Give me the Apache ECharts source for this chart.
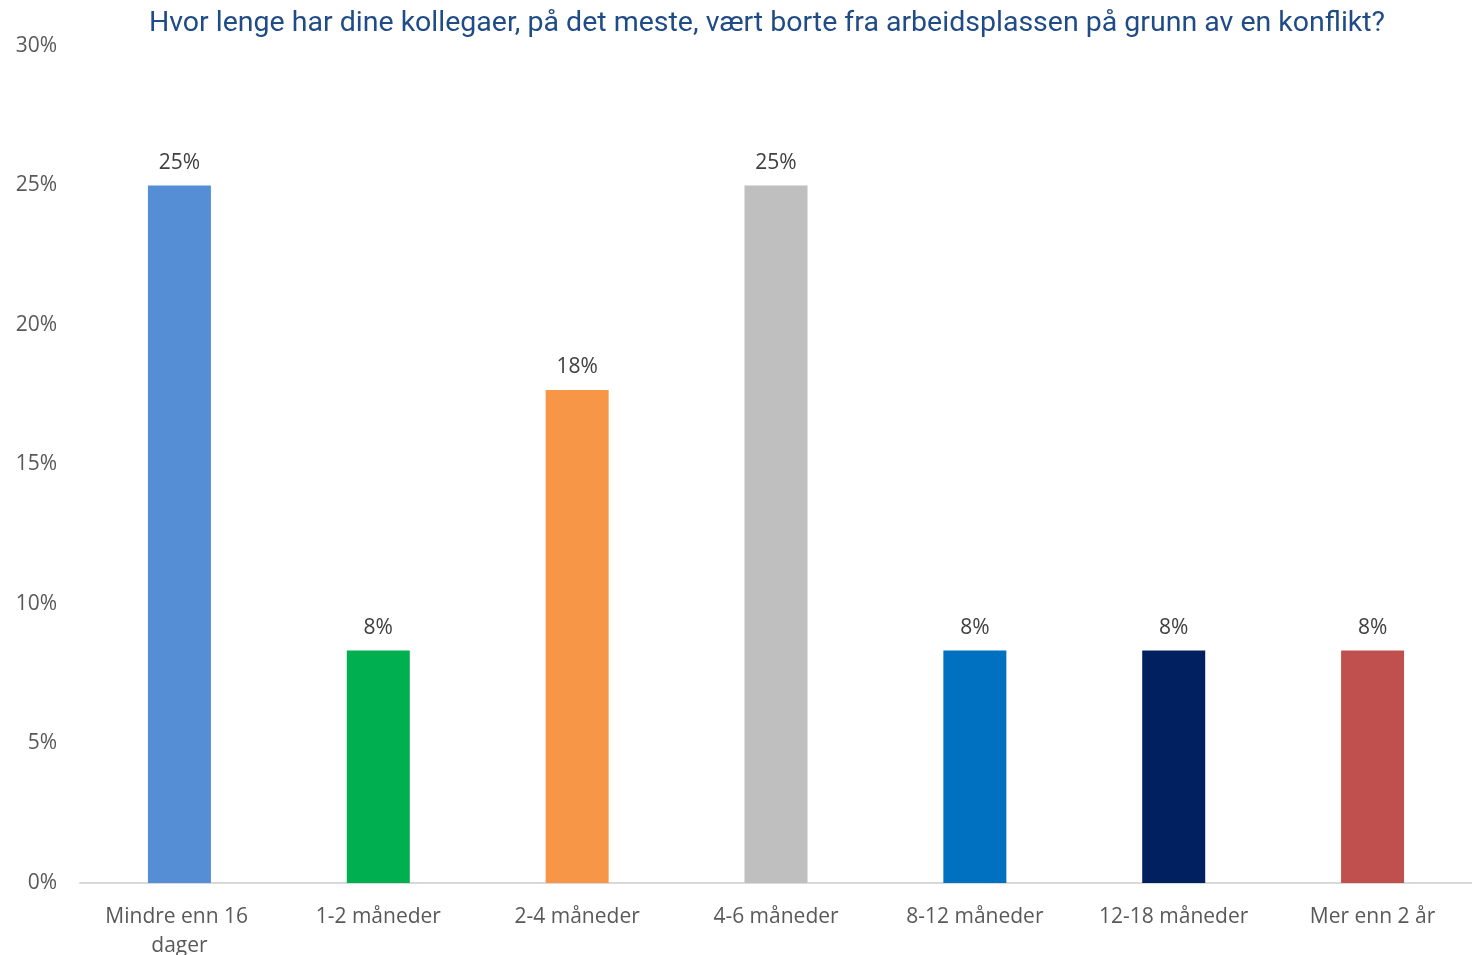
<!DOCTYPE html>
<html><head><meta charset="utf-8">
<script src="https://cdn.jsdelivr.net/npm/echarts@6/dist/echarts.min.js"></script>
<style>html,body{margin:0;padding:0;background:#fff}#c{width:1472px;height:955px}</style>
</head><body><div id="c"></div>
<script>
const titleText = 'Hvor lenge har dine kollegaer, på det meste, vært borte fra arbeidsplassen på grunn av en konflikt?';
const categories = ['Mindre enn 16 dager','1-2 måneder','2-4 måneder','4-6 måneder','8-12 måneder','12-18 måneder','Mer enn 2 år'];
const values = [25, 8.33, 17.67, 25, 8.33, 8.33, 8.33];
const barColors = ['#558ED5','#00B050','#F79646','#BFBFBF','#0070C0','#002060','#C0504D'];

const chart = echarts.init(document.getElementById('c'));
chart.setOption({
  animation:false,
  title:{text:titleText,left:762,textAlign:'center',top:4,
    textStyle:{color:'#1F4B86',fontSize:28.5,fontWeight:'normal',fontFamily:'Roboto'}},
  grid:{left:80,right:0,top:46,bottom:72,containLabel:false,outerBoundsMode:'none'},
  xAxis:{type:'category',data:categories,
    axisLine:{lineStyle:{color:'#D9D9D9',width:2}},axisTick:{show:false},
    axisLabel:{color:'#595959',fontSize:21,fontFamily:'Open Sans',margin:20,interval:0,width:180,overflow:'break',lineHeight:29}},
  yAxis:{type:'value',min:0,max:30,interval:5,
    axisLabel:{formatter:'{value}%',color:'#595959',fontSize:21,fontFamily:'Open Sans',margin:23},
    splitLine:{show:false},axisLine:{show:false},axisTick:{show:false}},
  series:[{type:'bar',barWidth:63,
    data:values.map((v,i)=>({value:v,itemStyle:{color:barColors[i]}})),
    label:{show:true,position:'top',distance:12,color:'#404040',fontSize:21,fontFamily:'Open Sans',
      formatter:p=>Math.round(p.value)+'%'}}]
});
</script></body></html>
